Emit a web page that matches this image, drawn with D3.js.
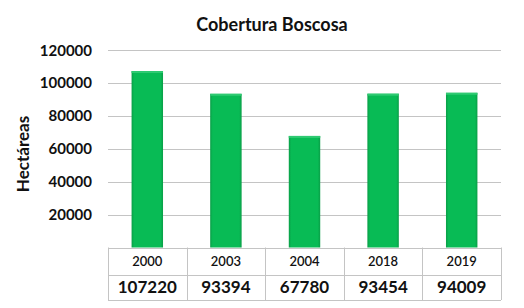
<!DOCTYPE html>
<html>
<head>
<meta charset="utf-8">
<script src="https://cdn.jsdelivr.net/npm/d3@7"></script>
<style>
  body { margin: 0; background: #fff; }
  text { font-family: Lato, "Open Sans", sans-serif; fill: #111; }
</style>
</head>
<body>
<div id="chart"></div>
<script>
// chart data
var years = ["2000", "2003", "2004", "2018", "2019"];
var hectares = [107220, 93394, 67780, 93454, 94009];
var yTicks = [20000, 40000, 60000, 80000, 100000, 120000];

var width = 524, height = 308;
var margin = {left: 108, right: 23, top: 50, bottom: 60};

var svg = d3.select("#chart").append("svg")
    .attr("width", width)
    .attr("height", height);

var x = d3.scaleBand()
    .domain(years)
    .range([margin.left, width - margin.right]);

var y = d3.scaleLinear()
    .domain([0, 120000])
    .range([247.5, margin.top]);

// gridlines
svg.append("g")
    .selectAll("line")
    .data(yTicks)
    .enter()
    .append("line")
    .attr("x1", margin.left)
    .attr("x2", width - margin.right)
    .attr("y1", d => Math.round(y(d)) + 0.5)
    .attr("y2", d => Math.round(y(d)) + 0.5)
    .attr("stroke", "#c4c4c4")
    .attr("stroke-width", 1);

// y axis labels
svg.append("g")
    .selectAll("text")
    .data(yTicks)
    .enter()
    .append("text")
    .attr("x", 92)
    .attr("y", d => y(d) + 5.5)
    .attr("text-anchor", "end")
    .attr("font-size", 15)
    .attr("font-weight", "bold")
    .text(d => d);

// y title
svg.append("text")
    .attr("transform", "translate(29,154) rotate(-90)")
    .attr("text-anchor", "middle")
    .attr("font-size", 17)
    .attr("font-weight", "bold")
    .text("Hectáreas");

// title
svg.append("text")
    .attr("x", 272)
    .attr("y", 31)
    .attr("text-anchor", "middle")
    .attr("font-size", 18)
    .attr("font-weight", "bold")
    .text("Cobertura Boscosa");

// bar gradient
var grad = svg.append("defs").append("linearGradient")
    .attr("id", "barGrad")
    .attr("x1", "0").attr("x2", "1");
grad.append("stop").attr("offset", "0").attr("stop-color", "#0a9e47");
grad.append("stop").attr("offset", "0.08").attr("stop-color", "#08bb55");
grad.append("stop").attr("offset", "0.92").attr("stop-color", "#08bb55");
grad.append("stop").attr("offset", "1").attr("stop-color", "#0a9e47");

var barW = x.bandwidth() * 0.4;

svg.append("g")
    .selectAll("rect")
    .data(hectares)
    .enter()
    .append("rect")
    .attr("x", (d, i) => x(years[i]) + (x.bandwidth() - barW) / 2)
    .attr("y", d => y(d))
    .attr("width", barW)
    .attr("height", d => y(0) - y(d))
    .attr("fill", "url(#barGrad)");

// top highlight on bars
svg.append("g")
    .selectAll("rect")
    .data(hectares)
    .enter()
    .append("rect")
    .attr("x", (d, i) => x(years[i]) + (x.bandwidth() - barW) / 2)
    .attr("y", d => y(d))
    .attr("width", barW)
    .attr("height", 2)
    .attr("fill", "#2fca72");

// data table
var row1 = 247.5, row2 = 275, row3 = 300;
var table = svg.append("g").attr("stroke", "#c4c4c4").attr("stroke-width", 1);

[row1, row2, row3].forEach(function(r) {
    table.append("line")
        .attr("x1", margin.left).attr("x2", width - margin.right)
        .attr("y1", Math.round(r) + 0.5).attr("y2", Math.round(r) + 0.5);
});

var cuts = years.map(d => x(d)).concat([x.range()[1]]);
table.selectAll(".vline")
    .data(cuts)
    .enter()
    .append("line")
    .attr("x1", d => Math.round(d) + 0.5)
    .attr("x2", d => Math.round(d) + 0.5)
    .attr("y1", row1)
    .attr("y2", row3);

svg.append("g")
    .selectAll("text")
    .data(years)
    .enter()
    .append("text")
    .attr("x", d => x(d) + x.bandwidth() / 2)
    .attr("y", 266)
    .attr("text-anchor", "middle")
    .attr("font-size", 13)
    .attr("font-weight", "600")
    .text(d => d);

svg.append("g")
    .selectAll("text")
    .data(hectares)
    .enter()
    .append("text")
    .attr("x", (d, i) => x(years[i]) + x.bandwidth() / 2)
    .attr("y", 293)
    .attr("text-anchor", "middle")
    .attr("font-size", 17)
    .attr("font-weight", "bold")
    .text(d => d);
</script>
</body>
</html>
